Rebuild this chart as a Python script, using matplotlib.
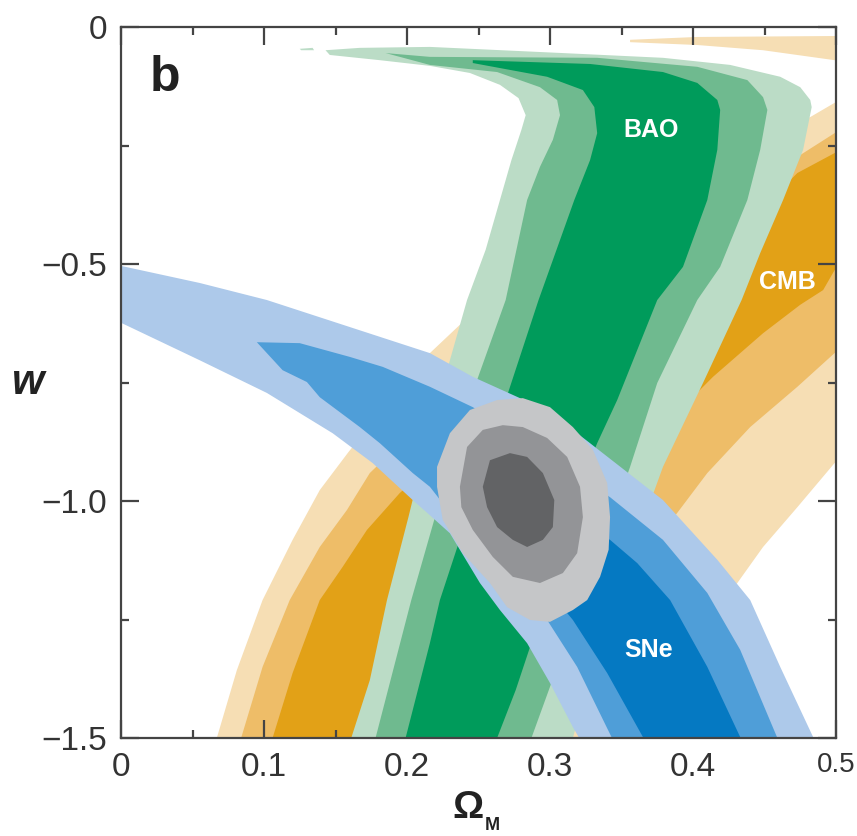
import matplotlib
matplotlib.use("Agg")
import matplotlib.pyplot as plt
from matplotlib.ticker import FixedLocator, MultipleLocator, FixedFormatter

plt.rcParams['font.family'] = ['Liberation Sans', 'DejaVu Sans']

# ---- confidence contours: (Omega_M, w) ----
# CMB (orange)
CMB_3s = [(0.060, -1.55), (0.067, -1.500), (0.081, -1.357), (0.099, -1.209), (0.120, -1.082),
          (0.139, -0.977), (0.159, -0.897), (0.188, -0.787), (0.216, -0.688), (0.242, -0.614),
          (0.300, -0.470), (0.349, -0.365), (0.405, -0.281), (0.447, -0.228), (0.482, -0.190),
          (0.499, -0.160), (0.520, -0.130), (0.520, -0.900), (0.499, -0.920), (0.473, -1.013),
          (0.449, -1.097), (0.431, -1.173), (0.405, -1.262), (0.377, -1.357), (0.349, -1.462),
          (0.338, -1.500), (0.330, -1.55)]
CMB_3s_top = [(0.356, -0.027), (0.403, -0.021), (0.499, -0.019), (0.520, -0.019), (0.520, -0.072),
              (0.499, -0.070), (0.449, -0.049), (0.403, -0.038), (0.356, -0.032)]
CMB_2s = [(0.077, -1.55), (0.084, -1.500), (0.099, -1.350), (0.118, -1.209), (0.139, -1.097),
          (0.158, -1.019), (0.174, -0.941), (0.216, -0.819), (0.279, -0.660), (0.335, -0.513),
          (0.391, -0.397), (0.440, -0.312), (0.473, -0.274), (0.499, -0.224), (0.520, -0.190),
          (0.520, -0.660), (0.499, -0.688), (0.473, -0.759), (0.440, -0.844), (0.410, -0.941),
          (0.389, -1.025), (0.363, -1.124), (0.335, -1.241), (0.310, -1.367), (0.297, -1.500),
          (0.292, -1.55)]
CMB_1s = [(0.100, -1.55), (0.106, -1.500), (0.120, -1.363), (0.139, -1.209), (0.155, -1.139),
          (0.172, -1.061), (0.195, -0.983), (0.237, -0.871), (0.293, -0.724), (0.349, -0.576),
          (0.405, -0.449), (0.447, -0.365), (0.463, -0.338), (0.473, -0.308), (0.499, -0.266),
          (0.520, -0.240), (0.520, -0.500), (0.499, -0.513), (0.491, -0.555), (0.475, -0.586),
          (0.449, -0.646), (0.414, -0.738), (0.370, -0.871), (0.328, -1.019), (0.293, -1.167),
          (0.265, -1.314), (0.244, -1.500), (0.240, -1.55)]

# BAO (green)
BAO_3s = [(0.155, -1.55), (0.161, -1.500), (0.174, -1.378), (0.186, -1.209), (0.201, -1.034),
          (0.216, -0.850), (0.230, -0.703), (0.242, -0.576), (0.255, -0.470), (0.265, -0.365),
          (0.273, -0.281), (0.280, -0.217), (0.283, -0.186), (0.278, -0.150), (0.265, -0.122),
          (0.244, -0.097), (0.216, -0.082), (0.181, -0.070), (0.146, -0.059), (0.143, -0.049),
          (0.167, -0.044), (0.216, -0.042), (0.309, -0.055), (0.379, -0.065), (0.426, -0.080),
          (0.461, -0.105), (0.475, -0.127), (0.482, -0.154), (0.483, -0.169), (0.477, -0.259),
          (0.463, -0.365), (0.447, -0.477), (0.434, -0.576), (0.407, -0.751), (0.379, -0.928),
          (0.363, -1.061), (0.345, -1.209), (0.331, -1.335), (0.316, -1.500), (0.312, -1.55)]
BAO_3s_sliver = [(0.125, -0.046), (0.134, -0.044), (0.135, -0.049), (0.126, -0.049)]
BAO_2s = [(0.172, -1.55), (0.178, -1.500), (0.203, -1.209), (0.223, -0.998), (0.244, -0.787),
          (0.269, -0.576), (0.284, -0.365), (0.293, -0.295), (0.302, -0.238), (0.307, -0.186),
          (0.305, -0.154), (0.293, -0.127), (0.263, -0.095), (0.216, -0.080), (0.190, -0.059),
          (0.185, -0.055), (0.216, -0.063), (0.333, -0.065), (0.403, -0.084), (0.438, -0.112),
          (0.449, -0.148), (0.452, -0.175), (0.447, -0.259), (0.438, -0.365), (0.419, -0.506),
          (0.403, -0.576), (0.375, -0.751), (0.356, -0.928), (0.338, -1.082), (0.321, -1.230),
          (0.303, -1.367), (0.287, -1.500), (0.282, -1.55)]
BAO_1s = [(0.194, -1.55), (0.199, -1.500), (0.216, -1.300), (0.223, -1.209), (0.246, -0.998),
          (0.269, -0.787), (0.292, -0.576), (0.317, -0.365), (0.328, -0.281), (0.333, -0.224),
          (0.331, -0.169), (0.323, -0.133), (0.298, -0.105), (0.246, -0.076), (0.246, -0.070),
          (0.328, -0.078), (0.379, -0.095), (0.403, -0.118), (0.417, -0.154), (0.419, -0.175),
          (0.417, -0.259), (0.410, -0.365), (0.393, -0.506), (0.375, -0.576), (0.347, -0.787),
          (0.333, -0.878), (0.317, -0.998), (0.303, -1.124), (0.290, -1.272), (0.276, -1.399),
          (0.263, -1.500), (0.259, -1.55)]

# SNe (blue)
SNE_3s = [(-0.020, -0.495), (0.000, -0.504), (0.055, -0.540), (0.102, -0.576), (0.160, -0.633),
          (0.216, -0.688), (0.246, -0.738), (0.279, -0.783), (0.307, -0.829), (0.328, -0.878),
          (0.379, -0.998), (0.417, -1.124), (0.440, -1.209), (0.461, -1.350), (0.484, -1.498),
          (0.490, -1.55), (0.315, -1.55), (0.320, -1.498), (0.316, -1.477), (0.300, -1.384),
          (0.284, -1.300), (0.265, -1.230), (0.251, -1.173), (0.230, -1.068), (0.216, -1.030),
          (0.204, -0.998), (0.176, -0.920), (0.148, -0.857), (0.102, -0.772), (0.055, -0.703),
          (0.000, -0.624), (-0.020, -0.615)]
SNE_2s = [(0.095, -0.665), (0.125, -0.667), (0.160, -0.696), (0.183, -0.717), (0.216, -0.759),
          (0.246, -0.802), (0.293, -0.892), (0.342, -0.992), (0.379, -1.082), (0.410, -1.194),
          (0.433, -1.314), (0.459, -1.500), (0.465, -1.55), (0.340, -1.55), (0.343, -1.498),
          (0.319, -1.350), (0.298, -1.251), (0.265, -1.146), (0.237, -1.051), (0.216, -0.970),
          (0.204, -0.941), (0.181, -0.878), (0.167, -0.844), (0.139, -0.781), (0.130, -0.749),
          (0.113, -0.724)]
SNE_1s = [(0.265, -0.956), (0.307, -1.019), (0.342, -1.082), (0.361, -1.131), (0.384, -1.209),
          (0.410, -1.350), (0.433, -1.498), (0.437, -1.55), (0.361, -1.55), (0.365, -1.498),
          (0.340, -1.363), (0.316, -1.251), (0.293, -1.167), (0.272, -1.082), (0.262, -1.008)]

# Combined (grey)
ALL_3s = [(0.221, -0.970), (0.221, -0.928), (0.230, -0.857), (0.244, -0.808), (0.263, -0.787),
          (0.281, -0.783), (0.300, -0.802), (0.316, -0.844), (0.330, -0.892), (0.340, -0.962),
          (0.342, -1.034), (0.341, -1.103), (0.335, -1.160), (0.326, -1.209), (0.316, -1.230),
          (0.300, -1.255), (0.286, -1.251), (0.270, -1.224), (0.258, -1.173), (0.239, -1.110),
          (0.225, -1.040)]
ALL_2s = [(0.237, -0.970), (0.242, -0.886), (0.253, -0.850), (0.267, -0.840), (0.281, -0.844),
          (0.298, -0.867), (0.312, -0.907), (0.321, -0.970), (0.323, -1.034), (0.319, -1.110),
          (0.309, -1.152), (0.293, -1.173), (0.274, -1.160), (0.260, -1.118), (0.246, -1.061),
          (0.238, -1.013)]
ALL_1s = [(0.253, -0.970), (0.258, -0.914), (0.272, -0.899), (0.284, -0.907), (0.295, -0.941),
          (0.303, -0.998), (0.302, -1.055), (0.295, -1.082), (0.284, -1.097), (0.274, -1.082),
          (0.263, -1.055), (0.256, -1.013)]

CMB_COLORS = ['#F6DEB4', '#EEBD68', '#E2A117']
BAO_COLORS = ['#BBDCC6', '#6FBA8F', '#009B5B']
SNE_COLORS = ['#ADC9EA', '#4F9ED8', '#0579C2']
ALL_COLORS = ['#C5C6C8', '#939497', '#626365']

x_ticks = [0, 0.1, 0.2, 0.3, 0.4, 0.5]
x_ticklabels = ['0', '0.1', '0.2', '0.3', '0.4', '0.5']
y_ticks = [-1.5, -1.0, -0.5, 0]
y_ticklabels = ['\u22121.5', '\u22121.0', '\u22120.5', '0']

fig = plt.figure(figsize=(8.57, 8.36), dpi=100)
ax = fig.add_axes([121/857, 1-738/836, (836-121)/857, (738-27)/836])


def fill(poly, color, z):
    xs, ys = zip(*poly)
    ax.fill(xs, ys, color=color, lw=0, zorder=z, antialiased=True)


z = 1
for polys, cols in [([CMB_3s + [], CMB_2s, CMB_1s], CMB_COLORS),
                    ([BAO_3s, BAO_2s, BAO_1s], BAO_COLORS),
                    ([SNE_3s, SNE_2s, SNE_1s], SNE_COLORS),
                    ([ALL_3s, ALL_2s, ALL_1s], ALL_COLORS)]:
    for p, c in zip(polys, cols):
        fill(p, c, z)
        z += 0.1
    z += 1
fill(CMB_3s_top, CMB_COLORS[0], 1)
fill(BAO_3s_sliver, BAO_COLORS[0], 2)

ax.set_xlim(0, 0.5)
ax.set_ylim(-1.5, 0)
ax.xaxis.set_major_locator(FixedLocator(x_ticks))
ax.xaxis.set_major_formatter(FixedFormatter(x_ticklabels))
ax.xaxis.set_minor_locator(MultipleLocator(0.05))
ax.yaxis.set_major_locator(FixedLocator(y_ticks))
ax.yaxis.set_major_formatter(FixedFormatter(y_ticklabels))
ax.yaxis.set_minor_locator(MultipleLocator(0.25))

spc = '#444444'
for s in ax.spines.values():
    s.set_linewidth(1.6)
    s.set_color(spc)
    s.set_zorder(20)
ax.tick_params(which='both', direction='in', top=True, right=True, color=spc, width=1.6,
               labelsize=24, labelcolor='#333333', pad=10)
ax.tick_params(which='major', length=13)
ax.tick_params(which='minor', length=6)
for lbl in ax.get_xticklabels():
    if lbl.get_text() == '0.5':
        lbl.set_fontsize(20)

ax.text(0.031, -0.108, 'b', fontsize=36, fontweight='bold', ha='center', va='center', color='#222222', zorder=30)
ax.text(0.371, -0.217, 'BAO', fontsize=18, fontweight='bold', ha='center', va='center', color='white', zorder=30)
ax.text(0.466, -0.538, 'CMB', fontsize=18, fontweight='bold', ha='center', va='center', color='white', zorder=30)
ax.text(0.369, -1.314, 'SNe', fontsize=18, fontweight='bold', ha='center', va='center', color='white', zorder=30)

fig.text(28/857, 1-383/836, 'w', fontsize=30, fontweight='bold', style='italic', ha='center', va='center', color='#222222')
fig.text(468/857, 1-808/836, '\u03a9', fontsize=28, fontweight='bold', ha='center', va='center', color='#222222')
fig.text(492/857, 1-826/836, 'M', fontsize=13, fontweight='bold', ha='center', va='center', color='#222222')

fig.savefig('out.png', dpi=100)
